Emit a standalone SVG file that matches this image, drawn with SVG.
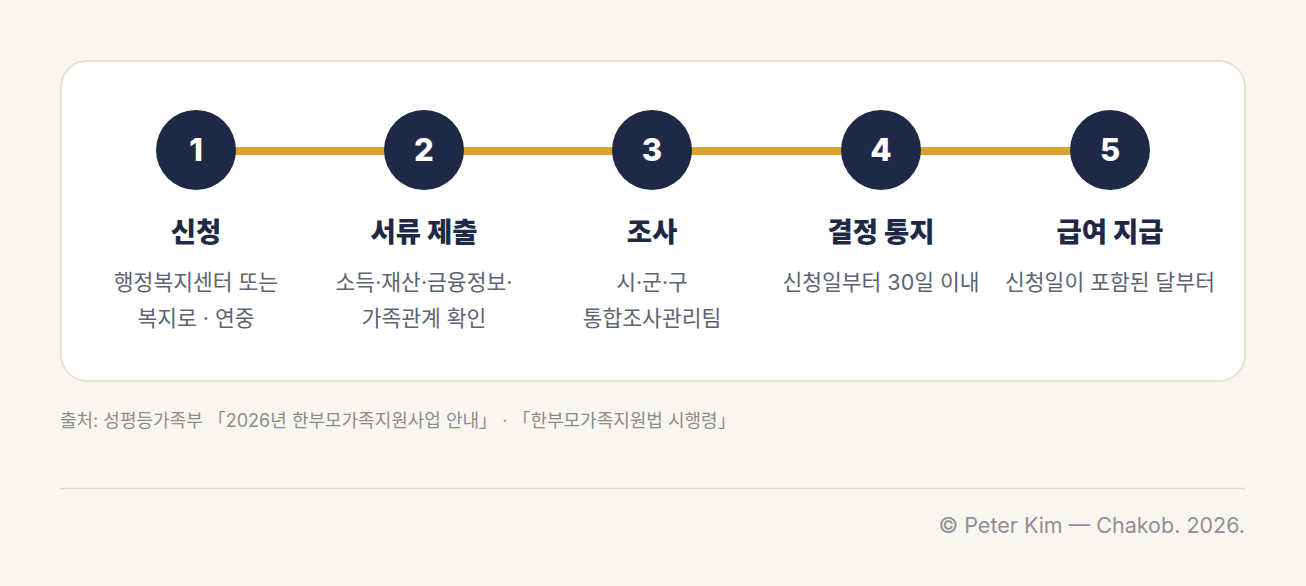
<svg xmlns="http://www.w3.org/2000/svg" width="1306" height="586" viewBox="0 0 1306 586">
<style>
.num{font-family:Inter,"Noto Sans CJK KR",sans-serif;font-weight:800;font-size:31px;fill:#ffffff;text-anchor:middle}
.title{font-family:Inter,"Noto Sans CJK KR",sans-serif;font-weight:800;font-size:27.5px;fill:#1e2a45;text-anchor:middle}
.desc{font-family:Inter,"Noto Sans CJK KR",sans-serif;font-size:21.5px;fill:#5c6373;text-anchor:middle}
.src{font-family:Inter,"Noto Sans CJK KR",sans-serif;font-size:18px;fill:#8c8c8c}
.copy{font-family:Inter,"Noto Sans CJK KR",sans-serif;font-size:21.5px;fill:#8e9099;text-anchor:end}
.dot{fill:#1e2a45}
</style>
<rect width="1306" height="586" fill="#f9f6ef"/>
<rect x="61" y="61" width="1184" height="320" rx="26" fill="#ffffff" stroke="#e8e1d2" stroke-width="2"/>
<g id="connectors">
<line x1="196" y1="151" x2="1110" y2="151" stroke="#d9a22b" stroke-width="8"/>
</g>
<g id="step1">
<circle class="dot" cx="196" cy="150" r="40"/>
<text class="num" x="196" y="161">1</text>
<text class="title" x="196" y="242">신청</text>
<text class="desc" x="196" y="290">행정복지센터 또는</text>
<text class="desc" x="196" y="326">복지로 · 연중</text>
</g>
<g id="step2">
<circle class="dot" cx="424" cy="150" r="40"/>
<text class="num" x="424" y="161">2</text>
<text class="title" x="424" y="242">서류 제출</text>
<text class="desc" x="424" y="290">소득·재산·금융정보·</text>
<text class="desc" x="424" y="326">가족관계 확인</text>
</g>
<g id="step3">
<circle class="dot" cx="652" cy="150" r="40"/>
<text class="num" x="652" y="161">3</text>
<text class="title" x="652" y="242">조사</text>
<text class="desc" x="652" y="290">시·군·구</text>
<text class="desc" x="652" y="326">통합조사관리팀</text>
</g>
<g id="step4">
<circle class="dot" cx="881" cy="150" r="40"/>
<text class="num" x="881" y="161">4</text>
<text class="title" x="881" y="242">결정 통지</text>
<text class="desc" x="881" y="290">신청일부터 30일 이내</text>
</g>
<g id="step5">
<circle class="dot" cx="1110" cy="150" r="40"/>
<text class="num" x="1110" y="161">5</text>
<text class="title" x="1110" y="242">급여 지급</text>
<text class="desc" x="1110" y="290">신청일이 포함된 달부터</text>
</g>
<text class="src" x="60" y="427">출처: 성평등가족부 「2026년 한부모가족지원사업 안내」 · 「한부모가족지원법 시행령」</text>
<line x1="60" y1="488.5" x2="1245" y2="488.5" stroke="#ddd8cc" stroke-width="1.5"/>
<text class="copy" x="1245" y="533">© Peter Kim — Chakob. 2026.</text>
</svg>
